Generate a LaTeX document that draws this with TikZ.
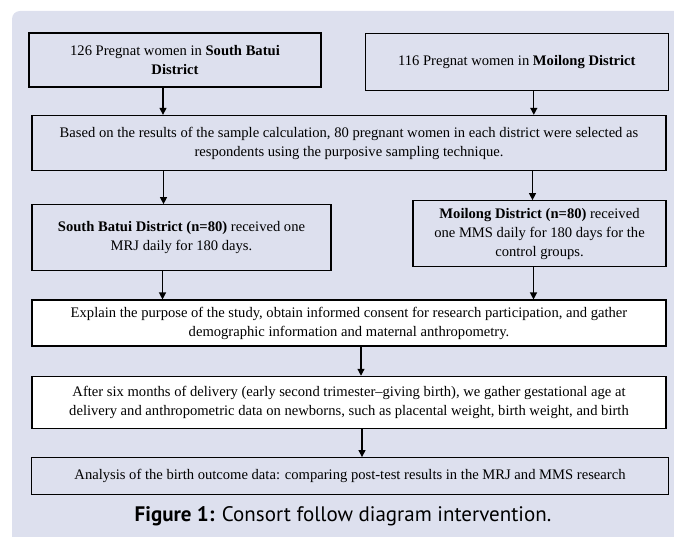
\documentclass[tikz,border=0pt]{standalone}
\usepackage{fontspec}
\setmainfont{Liberation Serif}
\newfontfamily\capfont{PT Sans}
\usetikzlibrary{positioning,arrows.meta}
\usepackage{xcolor}
\definecolor{panelbg}{RGB}{221,224,238}

\begin{document}
\begin{tikzpicture}[
            x=1pt, y=1pt,
            every node/.style={font=\fontsize{14.6}{19}\selectfont},
            flowbox/.style={draw=black, line width=1.3pt, fill=panelbg, align=center, inner sep=0pt},
            whitebox/.style={flowbox, fill=white},
            arrow/.style={-{Triangle[length=7pt, width=7pt]}, line width=1.2pt}
        ]
            \useasboundingbox (0,0) rectangle (674,-537);

            % Panel
            \fill[panelbg] (12,-537) -- (12,-19) arc[start angle=180, end angle=90, radius=8] -- (674,-11) -- (674,-537) -- cycle;

            % Populations
            \node[flowbox, minimum width=292pt, minimum height=54pt] (southpop) at (175,-60) {126 Pregnat women in \textbf{South Batui}\\\textbf{District}};
            \node[flowbox, minimum width=303pt, minimum height=57pt, right=43pt of southpop, yshift=-2pt] (moipop) {116 Pregnat women in \textbf{Moilong District}};

            % Sampling
            \node[flowbox, minimum width=634pt, minimum height=55pt] (sampling) at (349,-143) {Based on the results of the sample calculation, 80 pregnant women in each district were selected as\\respondents using the purposive sampling technique.};

            % Groups
            \node[flowbox, minimum width=299pt, minimum height=66pt, below=33pt of sampling.south west, anchor=north west] (mrj) {\textbf{South Batui District (n=80)} received one\\MRJ daily for 180 days.};
            \node[flowbox, minimum width=253pt, minimum height=66pt, below=29pt of sampling.south east, anchor=north east] (mms) {\textbf{Moilong District (n=80)} received\\one MMS daily for 180 days for the\\control groups.};

            % Follow up
            \node[whitebox, minimum width=634pt, minimum height=46pt, below=28pt of mrj.south west, anchor=north west] (consent) {Explain the purpose of the study, obtain informed consent for research participation, and gather\\demographic information and maternal anthropometry.};
            \node[whitebox, minimum width=634pt, minimum height=52pt, below=29pt of consent] (birthdata) {After six months of delivery (early second trimester--giving birth), we gather gestational age at\\delivery and anthropometric data on newborns, such as placental weight, birth weight, and birth};
            \node[flowbox, minimum width=636.5pt, minimum height=37pt, below=28pt of birthdata, xshift=1pt] (analysis) {Analysis of the birth outcome data: comparing post-test results in the MRJ and MMS research};

            % Caption
            \node[font=\capfont\fontsize{21}{24}\selectfont, anchor=base] (caption) at (343,-521) {\textbf{Figure 1:} Consort follow diagram intervention.};

            % Arrows
            \draw[arrow] ([xshift=-12pt]southpop.south) -- ([xshift=-12pt]southpop.south |- sampling.north);
            \draw[arrow] ([xshift=17pt]moipop.south) -- ([xshift=17pt]moipop.south |- sampling.north);
            \draw[arrow] ([xshift=-18pt]mrj.north |- sampling.south) -- ([xshift=-18pt]mrj.north);
            \draw[arrow] ([xshift=-7pt]mms.north |- sampling.south) -- ([xshift=-7pt]mms.north);
            \draw[arrow] ([xshift=-19pt]mrj.south) -- ([xshift=-19pt]mrj.south |- consent.north);
            \draw[arrow] ([xshift=-6pt]mms.south) -- ([xshift=-6pt]mms.south |- consent.north);
            \draw[arrow] ([xshift=12pt]consent.south) -- ([xshift=12pt]birthdata.north);
            \draw[arrow] ([xshift=13pt]birthdata.south) -- ([xshift=12pt]analysis.north);

        \end{tikzpicture}
\end{document}
